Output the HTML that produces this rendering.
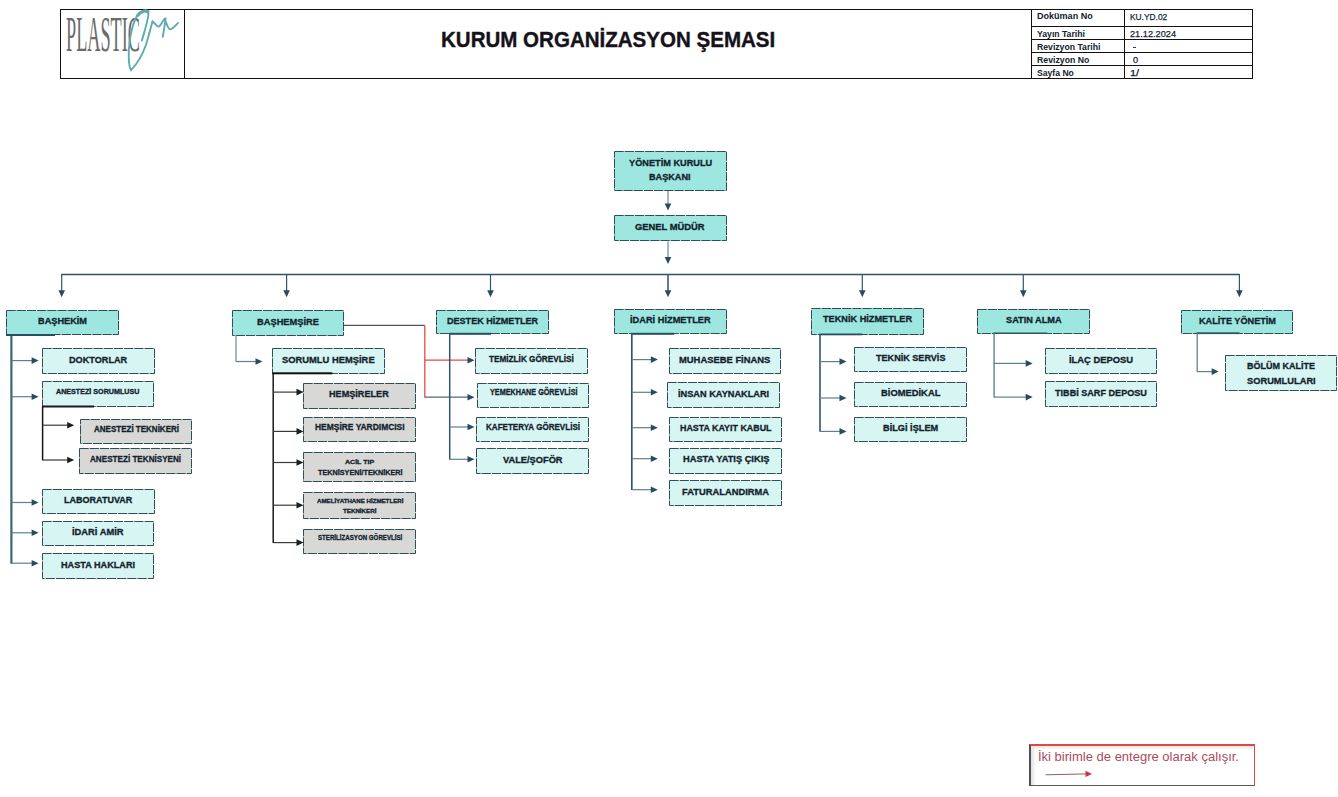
<!DOCTYPE html>
<html><head><meta charset="utf-8">
<style>
*{margin:0;padding:0;box-sizing:border-box}

html,body{width:1338px;height:797px;background:#fff;overflow:hidden;position:relative;font-family:"Liberation Sans",sans-serif}
.t{position:absolute;line-height:1;font-weight:bold;color:#12212b;white-space:nowrap;transform-origin:0 0}
.bt{-webkit-text-stroke:0.3px #12212b}
.hd{position:absolute;background:#111}
.ht{position:absolute;font-size:9px;font-weight:bold;color:#1c2a3c;white-space:nowrap}
</style></head><body>
<svg width="1338" height="797" style="position:absolute;left:0;top:0">
<rect x="614.5" y="151.5" width="112" height="39" fill="#9ee7e1" stroke="#2c5054" stroke-width="1" stroke-dasharray="9.2 1"/><rect x="614.5" y="215.5" width="112" height="25" fill="#9ee7e1" stroke="#2c5054" stroke-width="1" stroke-dasharray="9.2 1"/><rect x="6.5" y="310.5" width="112" height="24" fill="#9ee7e1" stroke="#2c5054" stroke-width="1" stroke-dasharray="9.2 1"/><rect x="232.5" y="310.5" width="111" height="25" fill="#9ee7e1" stroke="#2c5054" stroke-width="1" stroke-dasharray="9.2 1"/><rect x="436.5" y="310.5" width="112" height="23" fill="#9ee7e1" stroke="#2c5054" stroke-width="1" stroke-dasharray="9.2 1"/><rect x="614.5" y="309.5" width="112" height="24" fill="#9ee7e1" stroke="#2c5054" stroke-width="1" stroke-dasharray="9.2 1"/><rect x="811.5" y="308.5" width="112" height="26" fill="#9ee7e1" stroke="#2c5054" stroke-width="1" stroke-dasharray="9.2 1"/><rect x="977.5" y="309.5" width="112" height="24" fill="#9ee7e1" stroke="#2c5054" stroke-width="1" stroke-dasharray="9.2 1"/><rect x="1181.5" y="310.5" width="111" height="23" fill="#9ee7e1" stroke="#2c5054" stroke-width="1" stroke-dasharray="9.2 1"/><rect x="42.5" y="348.5" width="112" height="25" fill="#d6f5f3" stroke="#2c5054" stroke-width="1" stroke-dasharray="9.2 1"/><rect x="42.5" y="381.5" width="111" height="25" fill="#d6f5f3" stroke="#2c5054" stroke-width="1" stroke-dasharray="9.2 1"/><rect x="80.5" y="419.5" width="111" height="24" fill="#d8d8d6" stroke="#2c5054" stroke-width="1" stroke-dasharray="9.2 1"/><rect x="79.5" y="448.5" width="112" height="25" fill="#d8d8d6" stroke="#2c5054" stroke-width="1" stroke-dasharray="9.2 1"/><rect x="42.5" y="489.5" width="112" height="24" fill="#d6f5f3" stroke="#2c5054" stroke-width="1" stroke-dasharray="9.2 1"/><rect x="42.5" y="521.5" width="111" height="24" fill="#d6f5f3" stroke="#2c5054" stroke-width="1" stroke-dasharray="9.2 1"/><rect x="42.5" y="553.5" width="111" height="25" fill="#d6f5f3" stroke="#2c5054" stroke-width="1" stroke-dasharray="9.2 1"/><rect x="272.5" y="348.5" width="112" height="25" fill="#d6f5f3" stroke="#2c5054" stroke-width="1" stroke-dasharray="9.2 1"/><rect x="303.5" y="383.5" width="112" height="25" fill="#d8d8d6" stroke="#2c5054" stroke-width="1" stroke-dasharray="9.2 1"/><rect x="303.5" y="417.5" width="112" height="24" fill="#d8d8d6" stroke="#2c5054" stroke-width="1" stroke-dasharray="9.2 1"/><rect x="303.5" y="452.5" width="112" height="29" fill="#d8d8d6" stroke="#2c5054" stroke-width="1" stroke-dasharray="9.2 1"/><rect x="303.5" y="492.5" width="112" height="26" fill="#d8d8d6" stroke="#2c5054" stroke-width="1" stroke-dasharray="9.2 1"/><rect x="303.5" y="529.5" width="112" height="24" fill="#d8d8d6" stroke="#2c5054" stroke-width="1" stroke-dasharray="9.2 1"/><rect x="475.5" y="348.5" width="112" height="25" fill="#d6f5f3" stroke="#2c5054" stroke-width="1" stroke-dasharray="9.2 1"/><rect x="477.5" y="383.5" width="111" height="24" fill="#d6f5f3" stroke="#2c5054" stroke-width="1" stroke-dasharray="9.2 1"/><rect x="476.5" y="417.5" width="112" height="24" fill="#d6f5f3" stroke="#2c5054" stroke-width="1" stroke-dasharray="9.2 1"/><rect x="476.5" y="448.5" width="112" height="25" fill="#d6f5f3" stroke="#2c5054" stroke-width="1" stroke-dasharray="9.2 1"/><rect x="669.5" y="348.5" width="111" height="25" fill="#d6f5f3" stroke="#2c5054" stroke-width="1" stroke-dasharray="9.2 1"/><rect x="667.5" y="382.5" width="112" height="25" fill="#d6f5f3" stroke="#2c5054" stroke-width="1" stroke-dasharray="9.2 1"/><rect x="669.5" y="417.5" width="112" height="24" fill="#d6f5f3" stroke="#2c5054" stroke-width="1" stroke-dasharray="9.2 1"/><rect x="669.5" y="448.5" width="112" height="25" fill="#d6f5f3" stroke="#2c5054" stroke-width="1" stroke-dasharray="9.2 1"/><rect x="669.5" y="480.5" width="112" height="25" fill="#d6f5f3" stroke="#2c5054" stroke-width="1" stroke-dasharray="9.2 1"/><rect x="854.5" y="347.5" width="112" height="24" fill="#d6f5f3" stroke="#2c5054" stroke-width="1" stroke-dasharray="9.2 1"/><rect x="854.5" y="382.5" width="112" height="24" fill="#d6f5f3" stroke="#2c5054" stroke-width="1" stroke-dasharray="9.2 1"/><rect x="854.5" y="417.5" width="112" height="24" fill="#d6f5f3" stroke="#2c5054" stroke-width="1" stroke-dasharray="9.2 1"/><rect x="1045.5" y="348.5" width="111" height="25" fill="#d6f5f3" stroke="#2c5054" stroke-width="1" stroke-dasharray="9.2 1"/><rect x="1045.5" y="381.5" width="111" height="25" fill="#d6f5f3" stroke="#2c5054" stroke-width="1" stroke-dasharray="9.2 1"/><rect x="1225.5" y="355.5" width="111" height="35" fill="#d6f5f3" stroke="#2c5054" stroke-width="1" stroke-dasharray="9.2 1"/>
<line x1="668" y1="191" x2="668" y2="204" stroke="#6d8894" stroke-width="1.2"/><path d="M668 210.5L664.7 203.5L671.3 203.5Z" fill="#264d5c"/><line x1="668" y1="241.5" x2="668" y2="258" stroke="#6d8894" stroke-width="1.2"/><path d="M668 264L664.7 257L671.3 257Z" fill="#264d5c"/><line x1="668" y1="275" x2="668" y2="291" stroke="#6d8894" stroke-width="1.2"/><line x1="61.5" y1="274.5" x2="1239.5" y2="274.5" stroke="#2c5563" stroke-width="1.3"/><line x1="61.7" y1="274" x2="61.7" y2="291" stroke="#2f5768" stroke-width="1.2"/><path d="M61.7 297.3L58.400000000000006 290.3L65.0 290.3Z" fill="#264d5c"/><line x1="286.6" y1="274" x2="286.6" y2="291" stroke="#2f5768" stroke-width="1.2"/><path d="M286.6 297.3L283.3 290.3L289.90000000000003 290.3Z" fill="#264d5c"/><line x1="490.5" y1="274" x2="490.5" y2="291" stroke="#2f5768" stroke-width="1.2"/><path d="M490.5 297.3L487.2 290.3L493.8 290.3Z" fill="#264d5c"/><line x1="668" y1="274" x2="668" y2="291" stroke="#2f5768" stroke-width="1.2"/><path d="M668 297.3L664.7 290.3L671.3 290.3Z" fill="#264d5c"/><line x1="862.3" y1="274" x2="862.3" y2="291" stroke="#2f5768" stroke-width="1.2"/><path d="M862.3 297.3L859.0 290.3L865.5999999999999 290.3Z" fill="#264d5c"/><line x1="1023.3" y1="274" x2="1023.3" y2="291" stroke="#2f5768" stroke-width="1.2"/><path d="M1023.3 297.3L1020.0 290.3L1026.6 290.3Z" fill="#264d5c"/><line x1="1239.4" y1="274" x2="1239.4" y2="291" stroke="#2f5768" stroke-width="1.2"/><path d="M1239.4 297.3L1236.1000000000001 290.3L1242.7 290.3Z" fill="#264d5c"/><line x1="11.4" y1="335" x2="11.4" y2="563.8" stroke="#3a687b" stroke-width="2.2"/><rect x="6" y="334" width="49" height="2" fill="#24505e"/><line x1="12" y1="360.6" x2="32" y2="360.6" stroke="#5f7f8e" stroke-width="1.2"/><path d="M38.6 360.6L31.6 357.3L31.6 363.90000000000003Z" fill="#264d5c"/><line x1="12" y1="396.7" x2="32" y2="396.7" stroke="#5f7f8e" stroke-width="1.2"/><path d="M38.6 396.7L31.6 393.4L31.6 400.0Z" fill="#264d5c"/><line x1="12" y1="502.5" x2="32" y2="502.5" stroke="#5f7f8e" stroke-width="1.2"/><path d="M38.6 502.5L31.6 499.2L31.6 505.8Z" fill="#264d5c"/><line x1="12" y1="532.8" x2="32" y2="532.8" stroke="#5f7f8e" stroke-width="1.2"/><path d="M38.6 532.8L31.6 529.5L31.6 536.0999999999999Z" fill="#264d5c"/><line x1="12" y1="563.2" x2="32" y2="563.2" stroke="#5f7f8e" stroke-width="1.2"/><path d="M38.6 563.2L31.6 559.9000000000001L31.6 566.5Z" fill="#264d5c"/><rect x="42" y="405.5" width="52" height="2" fill="#1a1a1a"/><line x1="42.6" y1="406.4" x2="42.6" y2="460.3" stroke="#151515" stroke-width="1.5"/><line x1="42.6" y1="425.2" x2="68" y2="425.2" stroke="#3a3a3a" stroke-width="1.2"/><path d="M74.2 425.2L67.2 421.9L67.2 428.5Z" fill="#1e1e1e"/><line x1="42.6" y1="460" x2="68" y2="460" stroke="#3a3a3a" stroke-width="1.2"/><path d="M74.2 460L67.2 456.7L67.2 463.3Z" fill="#1e1e1e"/><line x1="236" y1="335.5" x2="236" y2="361.5" stroke="#6d8894" stroke-width="1.2"/><line x1="236" y1="361.5" x2="256" y2="361.5" stroke="#5f7f8e" stroke-width="1.2"/><path d="M262.5 361.5L255.5 358.2L255.5 364.8Z" fill="#264d5c"/><rect x="272.3" y="372.3" width="60" height="2" fill="#111"/><line x1="273.2" y1="373" x2="273.2" y2="542.9" stroke="#1a1a1a" stroke-width="1.5"/><line x1="273.2" y1="392.1" x2="297" y2="392.1" stroke="#3a3a3a" stroke-width="1.2"/><path d="M303.5 392.1L296.5 388.8L296.5 395.40000000000003Z" fill="#1e1e1e"/><line x1="273.2" y1="431.4" x2="297" y2="431.4" stroke="#3a3a3a" stroke-width="1.2"/><path d="M303.5 431.4L296.5 428.09999999999997L296.5 434.7Z" fill="#1e1e1e"/><line x1="273.2" y1="462.5" x2="297" y2="462.5" stroke="#3a3a3a" stroke-width="1.2"/><path d="M303.5 462.5L296.5 459.2L296.5 465.8Z" fill="#1e1e1e"/><line x1="273.2" y1="505.2" x2="297" y2="505.2" stroke="#3a3a3a" stroke-width="1.2"/><path d="M303.5 505.2L296.5 501.9L296.5 508.5Z" fill="#1e1e1e"/><line x1="273.2" y1="542.6" x2="297" y2="542.6" stroke="#3a3a3a" stroke-width="1.2"/><path d="M303.5 542.6L296.5 539.3000000000001L296.5 545.9Z" fill="#1e1e1e"/><line x1="344" y1="325.4" x2="424.8" y2="325.4" stroke="#4f555c" stroke-width="1.2"/><line x1="424.8" y1="325.4" x2="424.8" y2="397.6" stroke="#e54b45" stroke-width="1.3"/><line x1="424.8" y1="360.2" x2="468" y2="360.2" stroke="#e54b45" stroke-width="1.3"/><line x1="424.8" y1="397.2" x2="468" y2="397.2" stroke="#4f6a7a" stroke-width="1.2"/><rect x="449" y="332.8" width="42" height="2" fill="#24505e"/><line x1="449.7" y1="333.7" x2="449.7" y2="459.6" stroke="#2f5768" stroke-width="1.5"/><line x1="449.7" y1="427" x2="468" y2="427" stroke="#5f7f8e" stroke-width="1.2"/><line x1="449.7" y1="459.3" x2="468" y2="459.3" stroke="#5f7f8e" stroke-width="1.2"/><path d="M474.5 360.2L467.5 356.9L467.5 363.5Z" fill="#264d5c"/><path d="M474.5 397.2L467.5 393.9L467.5 400.5Z" fill="#264d5c"/><path d="M474.5 427L467.5 423.7L467.5 430.3Z" fill="#264d5c"/><path d="M474.5 459.3L467.5 456.0L467.5 462.6Z" fill="#264d5c"/><rect x="631.1" y="332.8" width="43" height="2" fill="#24505e"/><line x1="631.8" y1="333" x2="631.8" y2="490" stroke="#2f5768" stroke-width="1.7"/><line x1="632" y1="359.6" x2="651" y2="359.6" stroke="#5f7f8e" stroke-width="1.2"/><path d="M657.8 359.6L650.8 356.3L650.8 362.90000000000003Z" fill="#264d5c"/><line x1="632" y1="392.3" x2="651" y2="392.3" stroke="#5f7f8e" stroke-width="1.2"/><path d="M657.8 392.3L650.8 389.0L650.8 395.6Z" fill="#264d5c"/><line x1="632" y1="427.7" x2="651" y2="427.7" stroke="#5f7f8e" stroke-width="1.2"/><path d="M657.8 427.7L650.8 424.4L650.8 431.0Z" fill="#264d5c"/><line x1="632" y1="458.7" x2="651" y2="458.7" stroke="#5f7f8e" stroke-width="1.2"/><path d="M657.8 458.7L650.8 455.4L650.8 462.0Z" fill="#264d5c"/><line x1="632" y1="489.7" x2="651" y2="489.7" stroke="#5f7f8e" stroke-width="1.2"/><path d="M657.8 489.7L650.8 486.4L650.8 493.0Z" fill="#264d5c"/><rect x="819.4" y="333.5" width="43" height="1.8" fill="#24505e"/><line x1="820" y1="334.5" x2="820" y2="431.7" stroke="#2f5768" stroke-width="1.6"/><line x1="820" y1="361.6" x2="840" y2="361.6" stroke="#5f7f8e" stroke-width="1.2"/><path d="M846.5 361.6L839.5 358.3L839.5 364.90000000000003Z" fill="#264d5c"/><line x1="820" y1="398" x2="840" y2="398" stroke="#5f7f8e" stroke-width="1.2"/><path d="M846.5 398L839.5 394.7L839.5 401.3Z" fill="#264d5c"/><line x1="820" y1="431.4" x2="840" y2="431.4" stroke="#5f7f8e" stroke-width="1.2"/><path d="M846.5 431.4L839.5 428.09999999999997L839.5 434.7Z" fill="#264d5c"/><rect x="993.3" y="332.5" width="54" height="1.5" fill="#2b5560"/><line x1="994.1" y1="333.5" x2="994.1" y2="397.4" stroke="#6d8894" stroke-width="1.5"/><line x1="994.1" y1="363.4" x2="1026" y2="363.4" stroke="#5f7f8e" stroke-width="1.2"/><path d="M1032.7 363.4L1025.7 360.09999999999997L1025.7 366.7Z" fill="#264d5c"/><line x1="994.1" y1="397.1" x2="1026" y2="397.1" stroke="#5f7f8e" stroke-width="1.2"/><path d="M1032.7 397.1L1025.7 393.8L1025.7 400.40000000000003Z" fill="#264d5c"/><rect x="1196.4" y="332.3" width="43" height="1.8" fill="#2b5560"/><line x1="1197.2" y1="333.4" x2="1197.2" y2="371.9" stroke="#7a8e98" stroke-width="1.5"/><line x1="1197.2" y1="371.6" x2="1212" y2="371.6" stroke="#5f7f8e" stroke-width="1.2"/><path d="M1218.7 371.6L1211.7 368.3L1211.7 374.90000000000003Z" fill="#264d5c"/>
</svg>
<div class="t bt" style="left:628.64px;top:157.98px;font-size:9.59px;transform:scaleX(0.959);color:#12212b;">YÖNETİM KURULU</div><div class="t bt" style="left:649.28px;top:171.68px;font-size:9.59px;transform:scaleX(0.953);color:#12212b;">BAŞKANI</div><div class="t bt" style="left:635.32px;top:222.62px;font-size:8.84px;transform:scaleX(1.062);color:#12212b;">GENEL MÜDÜR</div><div class="t bt" style="left:38.08px;top:316.55px;font-size:9.16px;transform:scaleX(1.004);color:#12212b;">BAŞHEKİM</div><div class="t bt" style="left:257.07px;top:316.76px;font-size:9.74px;transform:scaleX(0.955);color:#12212b;">BAŞHEMŞİRE</div><div class="t bt" style="left:447.09px;top:316.31px;font-size:9.68px;transform:scaleX(0.936);color:#12212b;">DESTEK HİZMETLER</div><div class="t bt" style="left:629.67px;top:315.08px;font-size:9.94px;transform:scaleX(0.932);color:#12212b;">İDARİ HİZMETLER</div><div class="t bt" style="left:823.29px;top:314.12px;font-size:9.55px;transform:scaleX(0.960);color:#12212b;">TEKNİK HİZMETLER</div><div class="t bt" style="left:1005.52px;top:315.23px;font-size:9.53px;transform:scaleX(0.966);color:#12212b;">SATIN ALMA</div><div class="t bt" style="left:1198.68px;top:316.33px;font-size:9.53px;transform:scaleX(0.960);color:#12212b;">KALİTE YÖNETİM</div><div class="t bt" style="left:68.88px;top:354.83px;font-size:9.88px;transform:scaleX(0.925);color:#12212b;">DOKTORLAR</div><div class="t bt" style="left:56.12px;top:388.57px;font-size:7.12px;transform:scaleX(1.005);color:#12212b;">ANESTEZİ SORUMLUSU</div><div class="t bt" style="left:93.90px;top:424.69px;font-size:8.87px;transform:scaleX(0.904);color:#12212b;">ANESTEZİ TEKNİKERİ</div><div class="t bt" style="left:90.40px;top:453.63px;font-size:9.88px;transform:scaleX(0.822);color:#12212b;">ANESTEZİ TEKNİSYENİ</div><div class="t bt" style="left:64.29px;top:494.88px;font-size:9.59px;transform:scaleX(0.941);color:#12212b;">LABORATUVAR</div><div class="t bt" style="left:71.97px;top:526.96px;font-size:9.74px;transform:scaleX(0.961);color:#12212b;">İDARİ AMİR</div><div class="t bt" style="left:60.98px;top:559.63px;font-size:9.88px;transform:scaleX(0.924);color:#12212b;">HASTA HAKLARI</div><div class="t bt" style="left:282.32px;top:355.02px;font-size:9.67px;transform:scaleX(0.970);color:#12212b;">SORUMLU HEMŞİRE</div><div class="t bt" style="left:329.38px;top:388.93px;font-size:9.53px;transform:scaleX(0.957);color:#12212b;">HEMŞİRELER</div><div class="t bt" style="left:314.83px;top:422.67px;font-size:9.01px;transform:scaleX(0.938);color:#12212b;">HEMŞİRE YARDIMCISI</div><div class="t bt" style="left:345.12px;top:459.30px;font-size:6.15px;transform:scaleX(1.145);color:#12212b;">ACİL TIP</div><div class="t bt" style="left:317.61px;top:468.58px;font-size:7.70px;transform:scaleX(0.942);color:#12212b;">TEKNİSYENİ/TEKNİKERİ</div><div class="t bt" style="left:316.95px;top:498.62px;font-size:5.89px;transform:scaleX(1.046);color:#12212b;">AMELİYATHANE HİZMETLERİ</div><div class="t bt" style="left:343.22px;top:507.90px;font-size:6.15px;transform:scaleX(1.008);color:#12212b;">TEKNİKERİ</div><div class="t bt" style="left:317.52px;top:533.93px;font-size:7.41px;transform:scaleX(0.829);color:#12212b;">STERİLİZASYON GÖREVLİSİ</div><div class="t bt" style="left:489.10px;top:354.60px;font-size:9.16px;transform:scaleX(0.896);color:#12212b;">TEMİZLİK GÖREVLİSİ</div><div class="t bt" style="left:489.57px;top:387.84px;font-size:8.70px;transform:scaleX(0.831);color:#12212b;">YEMEKHANE GÖREVLİSİ</div><div class="t bt" style="left:485.86px;top:422.18px;font-size:9.59px;transform:scaleX(0.841);color:#12212b;">KAFETERYA GÖREVLİSİ</div><div class="t bt" style="left:502.93px;top:455.21px;font-size:9.68px;transform:scaleX(0.958);color:#12212b;">VALE/ŞOFÖR</div><div class="t bt" style="left:679.27px;top:354.80px;font-size:9.80px;transform:scaleX(0.959);color:#12212b;">MUHASEBE FİNANS</div><div class="t bt" style="left:678.38px;top:388.82px;font-size:9.67px;transform:scaleX(0.953);color:#12212b;">İNSAN KAYNAKLARI</div><div class="t bt" style="left:680.00px;top:423.27px;font-size:9.55px;transform:scaleX(0.931);color:#12212b;">HASTA KAYIT KABUL</div><div class="t bt" style="left:682.57px;top:454.26px;font-size:9.68px;transform:scaleX(0.959);color:#12212b;">HASTA YATIŞ ÇIKIŞ</div><div class="t bt" style="left:681.87px;top:487.11px;font-size:9.68px;transform:scaleX(0.966);color:#12212b;">FATURALANDIRMA</div><div class="t bt" style="left:875.99px;top:352.92px;font-size:9.67px;transform:scaleX(0.940);color:#12212b;">TEKNİK SERVİS</div><div class="t bt" style="left:880.97px;top:388.00px;font-size:9.80px;transform:scaleX(0.957);color:#12212b;">BİOMEDİKAL</div><div class="t bt" style="left:882.98px;top:423.22px;font-size:9.67px;transform:scaleX(0.953);color:#12212b;">BİLGİ İŞLEM</div><div class="t bt" style="left:1068.77px;top:355.22px;font-size:9.67px;transform:scaleX(0.971);color:#12212b;">İLAÇ DEPOSU</div><div class="t bt" style="left:1055.29px;top:387.93px;font-size:9.53px;transform:scaleX(0.955);color:#12212b;">TIBBİ SARF DEPOSU</div><div class="t bt" style="left:1246.89px;top:361.45px;font-size:9.80px;transform:scaleX(0.920);color:#12212b;">BÖLÜM KALİTE</div><div class="t bt" style="left:1246.62px;top:375.90px;font-size:9.80px;transform:scaleX(0.949);color:#12212b;">SORUMLULARI</div>
<div class="hd" style="left:60px;top:9px;width:1193px;height:1px"></div>
<div class="hd" style="left:60px;top:78px;width:1193px;height:1px"></div>
<div class="hd" style="left:60px;top:9px;width:1px;height:70px"></div>
<div class="hd" style="left:1252px;top:9px;width:1px;height:70px"></div>
<div class="hd" style="left:184px;top:9px;width:1px;height:70px"></div>
<div class="hd" style="left:1031px;top:9px;width:1px;height:70px"></div>
<div class="hd" style="left:1124px;top:9px;width:1px;height:70px"></div>
<div class="hd" style="left:1031px;top:26px;width:222px;height:1px"></div>
<div class="hd" style="left:1031px;top:39px;width:222px;height:1px"></div>
<div class="hd" style="left:1031px;top:52px;width:222px;height:1px"></div>
<div class="hd" style="left:1031px;top:65px;width:222px;height:1px"></div>
<div class="t" style="left:440.81px;top:28.28px;font-size:22.82px;transform:scaleX(0.900);color:#15121a;-webkit-text-stroke:0.4px #15121a;">KURUM ORGANİZASYON ŞEMASI</div>
<div class="t" style="left:1036.79px;top:11.30px;font-size:9.45px;transform:scaleX(0.957);color:#12212b;">Doküman No</div>
<div class="t" style="left:1037.25px;top:28.78px;font-size:9.59px;transform:scaleX(0.902);color:#12212b;">Yayın Tarihi</div>
<div class="t" style="left:1036.81px;top:41.88px;font-size:9.59px;transform:scaleX(0.904);color:#12212b;">Revizyon Tarihi</div>
<div class="t" style="left:1036.81px;top:55.10px;font-size:9.45px;transform:scaleX(0.925);color:#12212b;">Revizyon No</div>
<div class="t" style="left:1037.14px;top:68.57px;font-size:8.84px;transform:scaleX(0.976);color:#12212b;">Sayfa No</div>
<div class="t" style="left:1129.91px;top:12.58px;font-size:9.30px;transform:scaleX(0.900);color:#12212b;font-weight:normal;-webkit-text-stroke:0.25px #1c2a3c;">KU.YD.02</div>
<div class="t" style="left:1130.14px;top:28.78px;font-size:9.59px;transform:scaleX(0.960);color:#12212b;font-weight:normal;-webkit-text-stroke:0.25px #1c2a3c;">21.12.2024</div>
<div class="note" style="position:absolute;left:1133px;top:46.5px;width:3.4px;height:1.3px;background:#34405a"></div>
<div class="t" style="left:1132.83px;top:55.60px;font-size:9.16px;transform:scaleX(1.006);color:#12212b;font-weight:normal;-webkit-text-stroke:0.25px #1c2a3c;">0</div>
<div class="t" style="left:1129.78px;top:68.54px;font-size:8.58px;transform:scaleX(1.278);color:#12212b;font-weight:normal;-webkit-text-stroke:0.25px #1c2a3c;">1/</div>
<div class="t" style="left:65.55px;top:9.24px;font-size:50.52px;transform:scaleX(0.361);color:#12212b;font-weight:normal;font-family:'Liberation Serif',serif;color:#6b6b6b;">PLASTIC</div>
<svg width="1338" height="797" style="position:absolute;left:0;top:0">
<path d="M141.9 40.5 C144 33, 147.5 22, 148.4 15 C148.8 11, 144 9.8, 140 12.5 C134 17, 129.5 35, 128.8 50 C128.5 60, 129.5 68, 131 70.2 C136 65, 142 56, 146 44.7 C148.5 37, 151 27, 152.5 21.5" fill="none" stroke="#5fa9b0" stroke-width="1.9" stroke-linecap="round"/>
<path d="M152.5 21.5 C154 22, 156 26.5, 158.6 26.6 C161 26.5, 163.5 18, 165.5 18.5 C165 24, 163.8 31, 162.8 36.8 M165.5 21 C167 25, 168.5 29.5, 170.2 29.4 C173 29, 176 25, 178.1 22.9" fill="none" stroke="#5fa9b0" stroke-width="1.9" stroke-linecap="round"/>
<path d="M137.8 15.2 C140.5 11.5, 145 10, 148 11.5" fill="none" stroke="#5fa9b0" stroke-width="3.2" stroke-linecap="round"/>
</svg>
<div class="note" style="position:absolute;left:1029px;top:744px;width:226px;height:42px;border-top:2px solid #e04848;border-right:1px solid #e04848;border-left:2px solid #505050;border-bottom:1.5px solid #5a5a5a;box-shadow:inset 3px 2px 3px rgba(0,0,0,0.10)"></div>
<div class="t" style="left:1037.70px;top:750.63px;font-size:12.01px;transform:scaleX(1.084);color:#12212b;font-weight:normal;color:#ad4a5c;">İki birimle de entegre olarak çalışır.</div>
<svg width="1338" height="797" style="position:absolute;left:0;top:0">
<line x1="1045.6" y1="774.8" x2="1087" y2="773.9" stroke="#8a4a52" stroke-width="0.9"/>
<path d="M1092 774L1085.5 770.8L1085.5 777Z" fill="#d0323c"/>
</svg>
</body></html>
